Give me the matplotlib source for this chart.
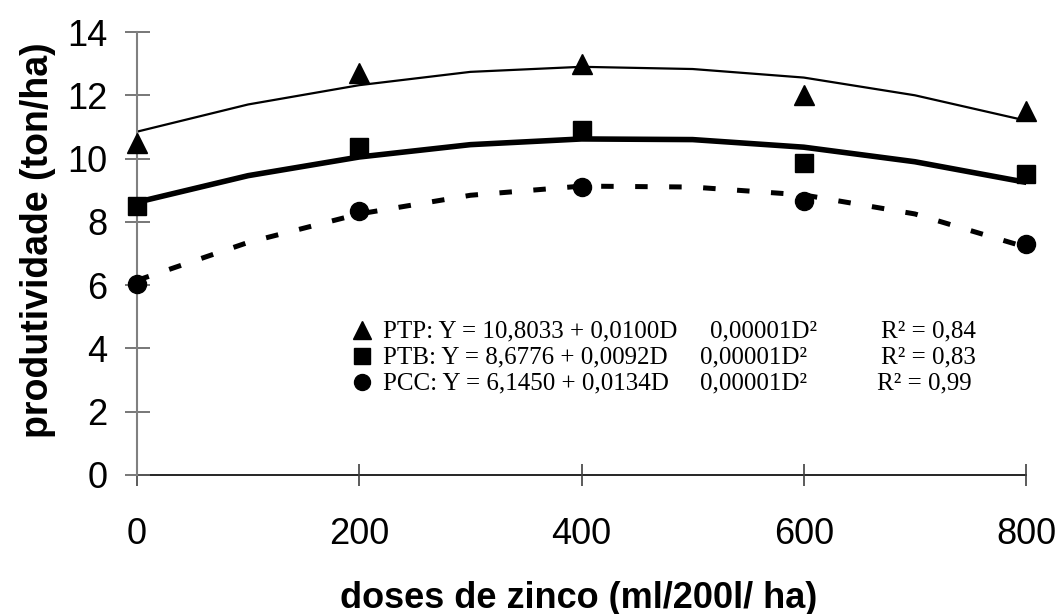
import matplotlib
matplotlib.use("Agg")
import matplotlib.pyplot as plt

# ---- data ----
doses = [0, 200, 400, 600, 800]
ptp_obs = [10.5, 12.7, 13.0, 12.0, 11.5]
ptb_obs = [8.5, 10.35, 10.9, 9.85, 9.5]
pcc_obs = [6.05, 8.35, 9.1, 8.65, 7.3]

curve_doses = [0, 100, 200, 300, 400, 500, 600, 700, 800]
ptp_fit = [10.85, 11.71, 12.32, 12.74, 12.90, 12.83, 12.56, 12.0, 11.2]
ptb_fit = [8.62, 9.46, 10.05, 10.44, 10.62, 10.6, 10.36, 9.9, 9.25]
pcc_fit = [6.15, 7.35, 8.25, 8.84, 9.13, 9.1, 8.85, 8.25, 7.2]

legend_names = ["PTP: Y = 10,8033 + 0,0100D",
                "PTB: Y = 8,6776 + 0,0092D",
                "PCC: Y = 6,1450 + 0,0134D"]
legend_quad = ["0,00001D\u00b2", "0,00001D\u00b2", "0,00001D\u00b2"]
legend_r2 = ["R\u00b2 = 0,84", "R\u00b2 = 0,83", "R\u00b2 = 0,99"]
legend_markers = ["^", "s", "o"]

xticks = [0, 200, 400, 600, 800]
yticks = [0, 2, 4, 6, 8, 10, 12, 14]
xlabel = "doses de zinco (ml/200l/ ha)"
ylabel = "produtividade (ton/ha)"

# ---- figure ----
W, H = 1059, 614
fig = plt.figure(figsize=(W / 100, H / 100), dpi=100)
ax = fig.add_axes([137 / W, 1 - 475 / H, 889 / W, 443 / H])

ax.plot(curve_doses, ptp_fit, color="black", lw=1.6, zorder=2)
ax.plot(curve_doses, ptb_fit, color="black", lw=4.0, zorder=2)
ax.plot(curve_doses, pcc_fit, color="black", lw=3.6, zorder=2,
        dashes=(2.5, 4.3), dash_capstyle="butt")

ax.plot(doses, ptp_obs, ls="none", marker="^", ms=14, color="black", zorder=3, clip_on=False)
ax.plot(doses, ptb_obs, ls="none", marker="s", ms=13, color="black", zorder=3, clip_on=False)
ax.plot(doses, pcc_obs, ls="none", marker="o", ms=13, color="black", zorder=3, clip_on=False)

ax.set_xlim(0, 800)
ax.set_ylim(0, 14)
ax.set_xticks(xticks)
ax.set_yticks(yticks)
ax.set_xticklabels([str(v) for v in xticks])
ax.set_yticklabels([str(v) for v in yticks])

for s in ["top", "right"]:
    ax.spines[s].set_visible(False)
ax.spines["left"].set_color("#808080")
ax.spines["left"].set_linewidth(1.5)
ax.spines["bottom"].set_color("black")
ax.spines["bottom"].set_linewidth(1.2)
ax.spines["bottom"].set_zorder(1)

ax.tick_params(axis="y", direction="inout", length=18, width=1.2, color="#606060",
               pad=12.5, labelsize=26)
ax.tick_params(axis="x", direction="inout", length=16, width=1.2, color="#404040",
               pad=22, labelsize=26)
for lab in ax.get_xticklabels() + ax.get_yticklabels():
    lab.set_fontfamily("Liberation Sans")

fig.text(579 / W, 1 - 598 / H, xlabel, ha="center", va="center",
         fontsize=26, fontweight="bold", family="Liberation Sans")
fig.text(38 / W, 1 - 240 / H, ylabel, ha="center", va="center", rotation=90,
         fontsize=27, fontweight="bold", family="Liberation Sans")

# legend block (text rows placed in axes fractions)
def fx(px):
    return (px - 137) / 889

def fy(py):
    return (475 - py) / 443

row_base = [337, 363, 389]
quad_x = [710, 700, 700]
r2_right = [976, 976, 972]
for i in range(3):
    ax.plot([fx(362)], [fy(row_base[i] - 7)], transform=ax.transAxes,
            marker=legend_markers[i], ms=12.5 if i == 0 else 11.5, color="black",
            ls="none", clip_on=False)
    ax.text(fx(383), fy(row_base[i]), legend_names[i], transform=ax.transAxes,
            ha="left", va="baseline", fontsize=18, family="Liberation Serif")
    ax.text(fx(quad_x[i]), fy(row_base[i]), legend_quad[i], transform=ax.transAxes,
            ha="left", va="baseline", fontsize=18, family="Liberation Serif")
    ax.text(fx(r2_right[i]), fy(row_base[i]), legend_r2[i], transform=ax.transAxes,
            ha="right", va="baseline", fontsize=18, family="Liberation Serif")

fig.savefig("out.png", dpi=100)
